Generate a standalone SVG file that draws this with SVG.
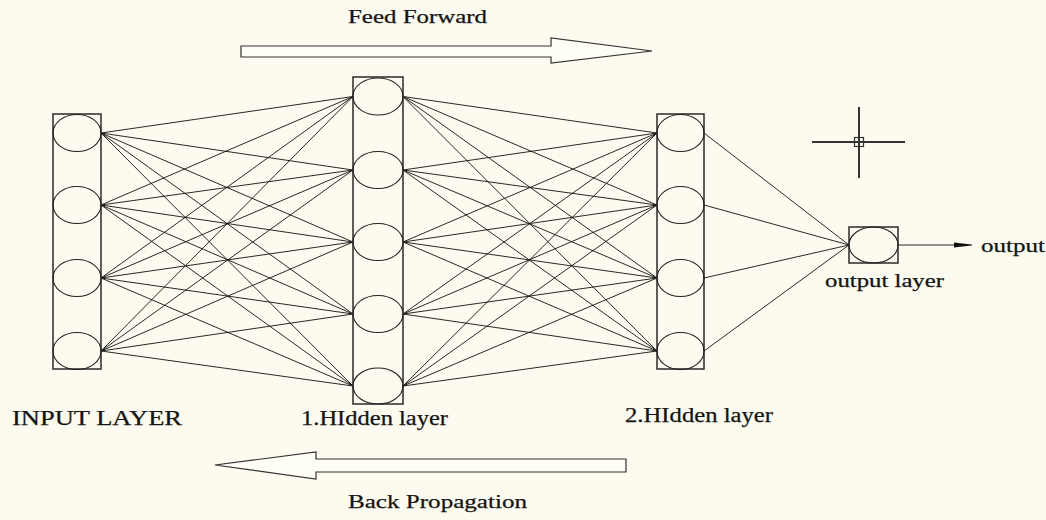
<svg xmlns="http://www.w3.org/2000/svg" width="1046" height="520" viewBox="0 0 1046 520">
<defs>
<style>
.bg{fill:#fdfbef}
.box{fill:none;stroke:#2a2a2a;stroke-width:1.5}
.neuron{fill:none;stroke:#222;stroke-width:1.1}
.conn line{stroke:#111;stroke-width:0.9}
.big{fill:#fefdf6;stroke:#333;stroke-width:1.2}
.t{font-family:"Liberation Serif","Times New Roman",serif;fill:#141414;stroke:#141414;stroke-width:0.25}
.cross{stroke:#333;stroke-width:2}
</style>
<marker id="ah" viewBox="0 0 18 6" refX="18" refY="3" markerWidth="18" markerHeight="6" markerUnits="userSpaceOnUse" orient="auto">
<path d="M0,0.5 L13,2 L18,3 L13,4 L0,5.5 Z" fill="#111"/>
</marker>
</defs>
<rect class="bg" x="0" y="0" width="1046" height="520"/>

<g id="connectors" class="conn">
<line x1="101" y1="133" x2="353" y2="96.5"/>
<line x1="101" y1="133" x2="353" y2="170"/>
<line x1="101" y1="133" x2="353" y2="242"/>
<line x1="101" y1="133" x2="353" y2="314"/>
<line x1="101" y1="133" x2="353" y2="386"/>
<line x1="101" y1="205" x2="353" y2="96.5"/>
<line x1="101" y1="205" x2="353" y2="170"/>
<line x1="101" y1="205" x2="353" y2="242"/>
<line x1="101" y1="205" x2="353" y2="314"/>
<line x1="101" y1="205" x2="353" y2="386"/>
<line x1="101" y1="278" x2="353" y2="96.5"/>
<line x1="101" y1="278" x2="353" y2="170"/>
<line x1="101" y1="278" x2="353" y2="242"/>
<line x1="101" y1="278" x2="353" y2="314"/>
<line x1="101" y1="278" x2="353" y2="386"/>
<line x1="101" y1="351" x2="353" y2="96.5"/>
<line x1="101" y1="351" x2="353" y2="170"/>
<line x1="101" y1="351" x2="353" y2="242"/>
<line x1="101" y1="351" x2="353" y2="314"/>
<line x1="101" y1="351" x2="353" y2="386"/>

<line x1="403" y1="96.5" x2="657" y2="133"/>
<line x1="403" y1="96.5" x2="657" y2="205"/>
<line x1="403" y1="96.5" x2="657" y2="278"/>
<line x1="403" y1="96.5" x2="657" y2="351"/>
<line x1="403" y1="170" x2="657" y2="133"/>
<line x1="403" y1="170" x2="657" y2="205"/>
<line x1="403" y1="170" x2="657" y2="278"/>
<line x1="403" y1="170" x2="657" y2="351"/>
<line x1="403" y1="242" x2="657" y2="133"/>
<line x1="403" y1="242" x2="657" y2="205"/>
<line x1="403" y1="242" x2="657" y2="278"/>
<line x1="403" y1="242" x2="657" y2="351"/>
<line x1="403" y1="314" x2="657" y2="133"/>
<line x1="403" y1="314" x2="657" y2="205"/>
<line x1="403" y1="314" x2="657" y2="278"/>
<line x1="403" y1="314" x2="657" y2="351"/>
<line x1="403" y1="386" x2="657" y2="133"/>
<line x1="403" y1="386" x2="657" y2="205"/>
<line x1="403" y1="386" x2="657" y2="278"/>
<line x1="403" y1="386" x2="657" y2="351"/>

<line x1="704" y1="133" x2="849" y2="245"/>
<line x1="704" y1="205" x2="849" y2="245"/>
<line x1="704" y1="278" x2="849" y2="245"/>
<line x1="704" y1="351" x2="849" y2="245"/>

<line x1="898" y1="245" x2="972" y2="245" marker-end="url(#ah)"/>
</g>

<g id="input-layer">
<rect class="box" x="53" y="114" width="48" height="255"/>
<ellipse class="neuron" cx="77" cy="133" rx="24" ry="18.5"/>
<ellipse class="neuron" cx="77" cy="205" rx="24" ry="18.5"/>
<ellipse class="neuron" cx="77" cy="278" rx="24" ry="18.5"/>
<ellipse class="neuron" cx="77" cy="351" rx="24" ry="18.5"/>
</g>

<g id="hidden-layer-1">
<rect class="box" x="353" y="77" width="50" height="327"/>
<ellipse class="neuron" cx="378" cy="96.5" rx="25" ry="18.5"/>
<ellipse class="neuron" cx="378" cy="170" rx="25" ry="18.5"/>
<ellipse class="neuron" cx="378" cy="242" rx="25" ry="18.5"/>
<ellipse class="neuron" cx="378" cy="314" rx="25" ry="18.5"/>
<ellipse class="neuron" cx="378" cy="386" rx="25" ry="18"/>
</g>

<g id="hidden-layer-2">
<rect class="box" x="657" y="114" width="47" height="255"/>
<ellipse class="neuron" cx="680.5" cy="133" rx="23.5" ry="18.5"/>
<ellipse class="neuron" cx="680.5" cy="205" rx="23.5" ry="18.5"/>
<ellipse class="neuron" cx="680.5" cy="278" rx="23.5" ry="18.5"/>
<ellipse class="neuron" cx="680.5" cy="351" rx="23.5" ry="18.5"/>
</g>

<g id="output-layer">
<rect class="box" x="849" y="227" width="49" height="36"/>
<ellipse class="neuron" cx="873.5" cy="245" rx="24.5" ry="18"/>
</g>

<g id="feed-forward">
<polygon class="big" points="241,46 551,46 551,38 652,51 551,63 551,57 241,57"/>
<text class="t" x="348" y="23" font-size="18" textLength="139" lengthAdjust="spacingAndGlyphs">Feed Forward</text>
</g>

<g id="back-propagation">
<polygon class="big" points="626,459 316,459 316,452 215,465 316,479 316,472 626,472"/>
<text class="t" x="348" y="508" font-size="19" textLength="179" lengthAdjust="spacingAndGlyphs">Back Propagation</text>
</g>

<g id="crosshair">
<line class="cross" x1="812" y1="142" x2="905" y2="142"/>
<line class="cross" x1="859" y1="107" x2="859" y2="178"/>
<rect x="854.5" y="137.5" width="9" height="9" fill="none" stroke="#333" stroke-width="1.2"/>
</g>

<g id="labels">
<text class="t" x="12" y="425" font-size="20" textLength="170" lengthAdjust="spacingAndGlyphs">INPUT LAYER</text>
<text class="t" x="301" y="425" font-size="20" textLength="147" lengthAdjust="spacingAndGlyphs">1.HIdden layer</text>
<text class="t" x="625" y="422" font-size="20" textLength="148" lengthAdjust="spacingAndGlyphs">2.HIdden layer</text>
<text class="t" x="825" y="287" font-size="19" textLength="119" lengthAdjust="spacingAndGlyphs">output layer</text>
<text class="t" x="981" y="252" font-size="19" textLength="64" lengthAdjust="spacingAndGlyphs">output</text>
</g>
</svg>
